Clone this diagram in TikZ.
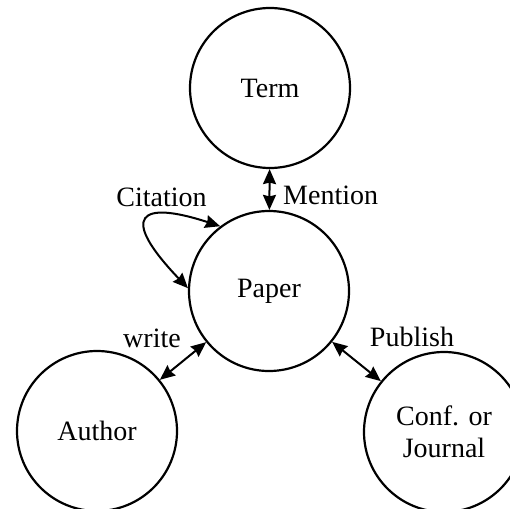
\documentclass[tikz,border=0pt]{standalone}
\usepackage{fontspec}
\setmainfont{Liberation Serif}
\usetikzlibrary{arrows.meta}
\begin{document}
\begin{tikzpicture}[x=1pt,y=-1pt,
  ent/.style={circle,draw,line width=2.2pt,minimum size=160pt,inner sep=0pt,align=center,
    font=\fontsize{28}{32}\selectfont},
  lbl/.style={font=\fontsize{28}{32}\selectfont,inner sep=0pt},
  tip/.tip={Stealth[length=15pt,width=13pt,inset=1.5pt]},
  link/.style={line width=2pt,{tip}-{tip}}]
\useasboundingbox (0,0) rectangle (510,508);
\node[ent] (term) at (270,88) {Term};
\node[ent] (paper) at (269,291) {Paper};
\node[ent] (author) at (97,431) {Author};
\node[ent] (conf) at (444,432) {Conf. or\\Journal};
\draw[link] (term) -- (paper);
\draw[link] (paper) -- (author);
\draw[link] (paper) -- (conf);
\draw[link] (paper.127) .. controls (140,200) and (118,215) .. (paper.178);
\node[lbl,anchor=west] (mention) at (283,195) {Mention};
\node[lbl] (citation) at (161.5,197) {Citation};
\node[lbl] (write) at (152,338) {write};
\node[lbl] (publish) at (412,337) {Publish};
\end{tikzpicture}
\end{document}
